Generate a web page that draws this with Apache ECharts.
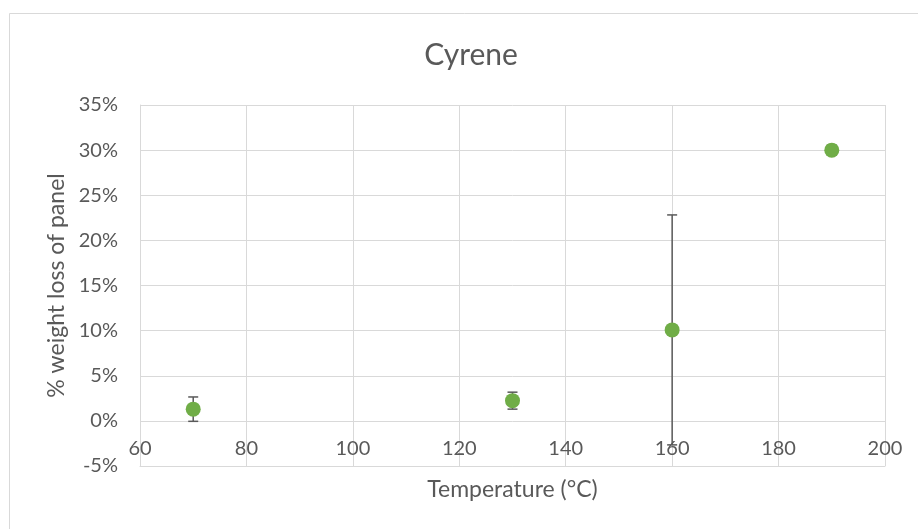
<!DOCTYPE html>
<html>
<head>
<meta charset="utf-8">
<script src="https://cdn.jsdelivr.net/npm/echarts@6/dist/echarts.min.js"></script>
<style>html,body{margin:0;padding:0;background:#fff;}#c{width:918px;height:529px;}</style>
</head>
<body>
<div id="c"></div>
<script>
const temperatures = [70, 130, 160, 190];
const weightLoss = [1.3, 2.24, 10.08, 30.0];
const errors = [1.35, 0.94, 12.74, 0.55];
const xTicks = [60, 80, 100, 120, 140, 160, 180, 200];
const yTicks = [-5, 0, 5, 10, 15, 20, 25, 30, 35];

const FONT = 'Lato';
const TXT = '#595959';
const GRID = '#d9d9d9';

const chart = echarts.init(document.getElementById('c'));
const points = temperatures.map((t, i) => [t, weightLoss[i]]);
const errData = temperatures.map((t, i) => [t, weightLoss[i] - errors[i], weightLoss[i] + errors[i]]);

chart.setOption({
  animation: false,
  backgroundColor: '#fff',
  graphic: [{
    type: 'rect', left: 7, top: 11, z: -1,
    shape: { x: 0, y: 0, width: 930, height: 540 },
    style: { fill: 'none', stroke: GRID, lineWidth: 1 }
  }],
  title: {
    text: 'Cyrene', left: 466, top: 35, textAlign: 'center',
    textStyle: { fontFamily: FONT, fontSize: 30, fontWeight: 'normal', color: TXT }
  },
  grid: { left: 140, right: 33, top: 105, bottom: 63, outerBoundsMode: 'none', containLabel: false },
  xAxis: {
    type: 'value', min: xTicks[0], max: xTicks[xTicks.length - 1], interval: 20,
    name: 'Temperature (°C)', nameLocation: 'middle', nameGap: 12,
    nameTextStyle: { fontFamily: FONT, fontSize: 23, color: TXT },
    axisLine: { show: true, onZero: false, lineStyle: { color: GRID, width: 1 } },
    axisTick: { show: false },
    axisLabel: { fontFamily: FONT, fontSize: 20, color: TXT, margin: -27 },
    splitLine: { show: true, lineStyle: { color: GRID, width: 1 } }
  },
  yAxis: {
    type: 'value', min: yTicks[0], max: yTicks[yTicks.length - 1], interval: 5,
    name: '% weight loss of panel', nameLocation: 'middle', nameGap: 72,
    nameTextStyle: { fontFamily: FONT, fontSize: 23, color: TXT },
    axisLine: { show: true, onZero: false, lineStyle: { color: GRID, width: 1 } },
    axisTick: { show: false },
    axisLabel: { fontFamily: FONT, fontSize: 20, color: TXT, margin: 22, formatter: '{value}%' },
    splitLine: { show: true, lineStyle: { color: GRID, width: 1 } }
  },
  series: [
    {
      type: 'custom',
      data: errData,
      z: 3,
      renderItem: function (params, api) {
        const x = api.value(0);
        const lo = api.coord([x, api.value(1)]);
        const hi = api.coord([x, api.value(2)]);
        const w = 5;
        const st = { stroke: '#595959', lineWidth: 1.5 };
        return {
          type: 'group',
          children: [
            { type: 'line', shape: { x1: hi[0], y1: hi[1], x2: lo[0], y2: lo[1] }, style: st },
            { type: 'line', shape: { x1: hi[0] - w, y1: hi[1], x2: hi[0] + w, y2: hi[1] }, style: st },
            { type: 'line', shape: { x1: lo[0] - w, y1: lo[1], x2: lo[0] + w, y2: lo[1] }, style: st }
          ]
        };
      }
    },
    {
      type: 'scatter',
      data: points,
      z: 4,
      symbol: 'circle',
      symbolSize: 15,
      itemStyle: { color: '#70ad47', opacity: 1 }
    }
  ]
});
</script>
</body>
</html>
